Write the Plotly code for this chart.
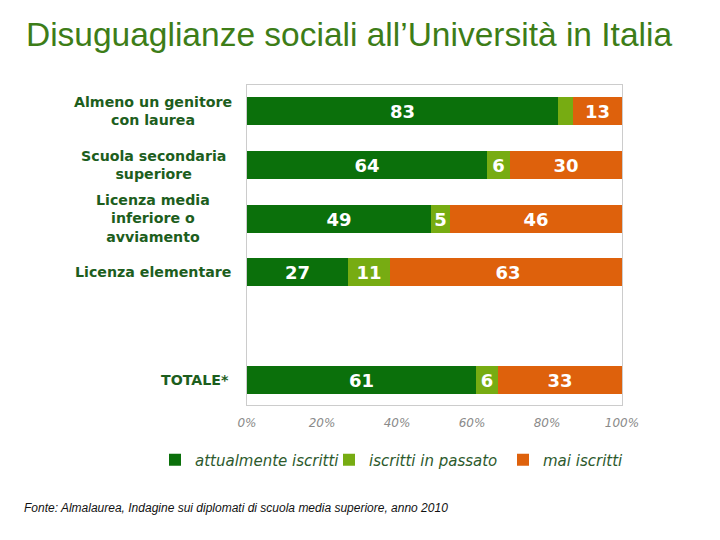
import plotly.graph_objects as go

categories = ["Almeno un genitore<br>con laurea", "Scuola secondaria<br>superiore",
              "Licenza media<br>inferiore o<br>avviamento", "Licenza elementare", "TOTALE*"]
positions = [0, 1, 2, 3, 5]
attualmente = [83, 64, 49, 27, 61]
passato = [4, 6, 5, 11, 6]
mai = [13, 30, 46, 63, 33]
series_names = ["attualmente iscritti", "iscritti in passato", "mai iscritti"]
series_colors = ["#0b700b", "#77ac12", "#de610c"]
tick_vals = [0, 20, 40, 60, 80, 100]
tick_text = ["0%", "20%", "40%", "60%", "80%", "100%"]

OFF = 8  # page body margin
W, H = 720 - OFF, 540 - OFF
L, R, T, B = 247 - OFF, 622 - OFF, 85 - OFF, 405 - OFF
PW, PH = R - L, B - T

fig = go.Figure()
for name, vals, col in zip(series_names, [attualmente, passato, mai], series_colors):
    fig.add_trace(go.Bar(
        y=positions, x=vals, name=name, orientation="h", width=0.52,
        marker=dict(color=col, line=dict(width=0)),
        text=[str(v) if v >= 5 else "" for v in vals],
        textposition="inside", insidetextanchor="middle",
        textfont=dict(family="DejaVu Sans", size=18, color="white", weight="bold"),
        hoverinfo="skip", cliponaxis=True,
    ))

label_font = dict(family="DejaVu Sans", size=14.2, color="#1d5e1d", weight="bold")
for cat, pos in zip(categories, positions):
    if cat == "TOTALE*":
        fig.add_annotation(x=0, xref="paper", y=pos, yref="y", text=cat, showarrow=False,
                           xanchor="right", xshift=-16, align="right", font=label_font)
    else:
        fig.add_annotation(x=0, xref="paper", y=pos, yref="y", text=cat, showarrow=False,
                           xanchor="center", xshift=-94, align="center", font=label_font)

fig.add_annotation(text="Fonte: Almalaurea, Indagine sui diplomati di scuola media superiore, anno 2010",
                   xref="paper", yref="paper", x=(22 - OFF - L) / PW, y=-(508 - OFF - B) / PH,
                   xanchor="left", yanchor="middle", showarrow=False,
                   font=dict(family="Liberation Sans", size=12, color="#111111", style="italic"))

fig.update_layout(
    width=W, height=H, barmode="stack", bargap=0,
    plot_bgcolor="white", paper_bgcolor="white",
    uniformtext=dict(minsize=18, mode="show"),
    margin=dict(l=L, r=W - R, t=T, b=H - B, autoexpand=False),
    title=dict(text="Disuguaglianze sociali all\u2019Università in Italia",
               x=(349 - OFF) / W, xanchor="center", xref="container",
               y=1 - (34 - OFF) / H, yanchor="middle", yref="container",
               font=dict(family="Liberation Sans", size=33.5, color="#3d7d18")),
    xaxis=dict(range=[0, 100], tickvals=tick_vals, ticktext=tick_text, showgrid=False,
               zeroline=False, showline=True, linecolor="#cccccc", linewidth=1, mirror=True,
               ticks="", ticklen=0, ticklabelstandoff=7,
               tickfont=dict(family="DejaVu Sans", size=12, color="#8a8a8a", style="italic")),
    yaxis=dict(range=[5.46, -0.48], showticklabels=False, showgrid=False, zeroline=False,
               showline=True, linecolor="#cccccc", linewidth=1, mirror=True, ticks=""),
    legend=dict(orientation="h", x=(155 - OFF - L) / PW, xanchor="left",
                y=-(460 - OFF - B) / PH, yanchor="middle", itemwidth=30,
                entrywidth=129, entrywidthmode="pixels",
                font=dict(family="DejaVu Sans", size=15, color="#2d5a2d", style="italic"),
                traceorder="normal"),
    showlegend=True,
)

fig.write_html("out.html")
